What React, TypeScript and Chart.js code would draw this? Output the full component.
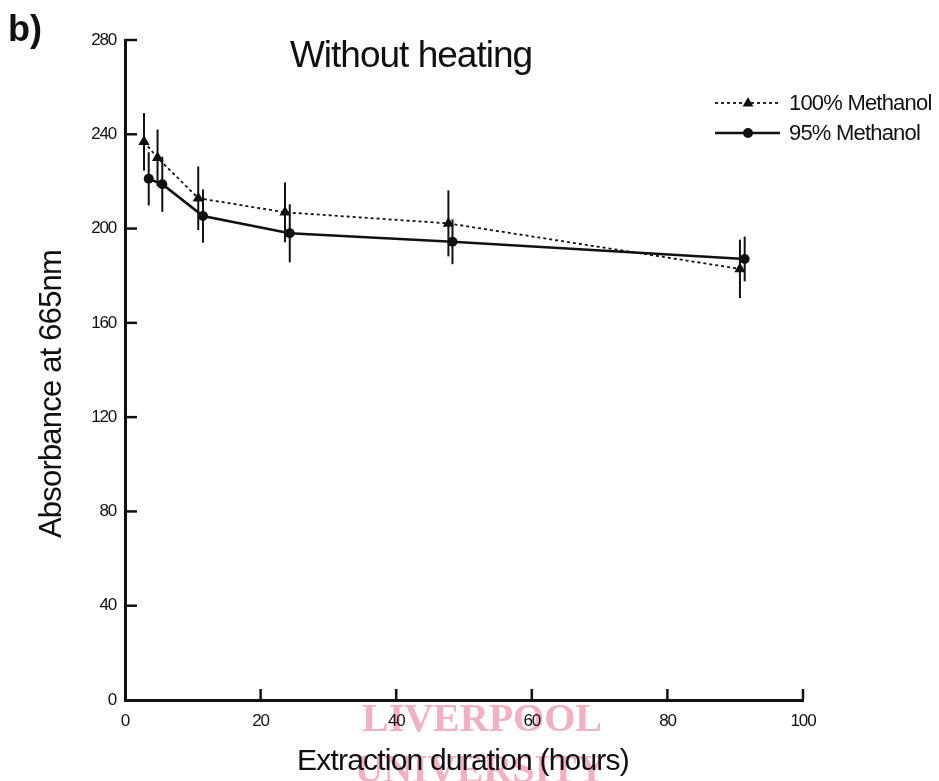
import React, { useEffect, useRef } from "react";
import { Chart, registerables } from "chart.js";

Chart.register(...registerables);

// ---- Data ----
const seriesLabels = ["100% Methanol", "95% Methanol"];

const methanol100X = [2.8, 4.8, 10.8, 23.6, 47.7, 90.7];
const methanol100Y = [236.8, 230.0, 212.9, 206.9, 202.2, 182.9];
const methanol100Err = [12.2, 12.0, 13.5, 12.7, 14.0, 12.4];

const methanol95X = [3.5, 5.5, 11.5, 24.3, 48.3, 91.4];
const methanol95Y = [221.1, 218.8, 205.3, 198.0, 194.4, 187.1];
const methanol95Err = [11.3, 11.7, 11.3, 12.3, 9.5, 9.5];

const xTicks = [0, 20, 40, 60, 80, 100];
const yTicks = [0, 40, 80, 120, 160, 200, 240, 280];

const chartTitle = "Without heating";
const panelLabel = "b)";
const xAxisTitle = "Extraction duration (hours)";
const yAxisTitle = "Absorbance at 665nm";
const watermarkLines = ["LIVERPOOL", "UNIVERSITY"];

const FONT = '"Liberation Sans", Arial, sans-serif';

const errorBars = [methanol100Err, methanol95Err];

const errorBarPlugin = {
  id: "errorBars",
  afterDatasetsDraw(chart: any) {
    const ctx = chart.ctx;
    const xs = chart.scales.x;
    const ys = chart.scales.y;
    ctx.save();
    ctx.strokeStyle = "#111";
    ctx.lineWidth = 2;
    chart.data.datasets.forEach((ds: any, i: number) => {
      ds.data.forEach((p: any, j: number) => {
        const e = errorBars[i][j];
        const px = xs.getPixelForValue(p.x);
        const y1 = ys.getPixelForValue(p.y - e);
        const y2 = ys.getPixelForValue(p.y + e);
        ctx.beginPath();
        ctx.moveTo(px, y1);
        ctx.lineTo(px, y2);
        ctx.stroke();
      });
    });
    ctx.restore();
  },
};

const decorPlugin = {
  id: "decor",
  beforeDraw(chart: any) {
    const ctx = chart.ctx;
    ctx.save();
    ctx.fillStyle = "#ffffff";
    ctx.fillRect(0, 0, chart.width, chart.height);
    // watermark stamp
    ctx.fillStyle = "rgba(228, 100, 130, 0.5)";
    ctx.font = 'bold 40px "Liberation Serif", "Times New Roman", serif';
    ctx.textAlign = "center";
    ctx.textBaseline = "middle";
    ctx.fillText(watermarkLines[0], 482, 721);
    ctx.fillText(watermarkLines[1], 480, 772);
    ctx.restore();
    // condensed look for tick labels
    ctx.letterSpacing = "-1.2px";
  },
  afterDraw(chart: any) {
    const ctx = chart.ctx;
    const xs = chart.scales.x;
    const ys = chart.scales.y;
    const area = chart.chartArea;
    ctx.save();
    // inward tick marks
    ctx.strokeStyle = "#111";
    ctx.lineWidth = 2.5;
    ys.ticks.forEach((t: any) => {
      if (t.value === 0) return;
      const py = ys.getPixelForValue(t.value);
      ctx.beginPath();
      ctx.moveTo(area.left, py);
      ctx.lineTo(area.left + 12, py);
      ctx.stroke();
    });
    xs.ticks.forEach((t: any) => {
      if (t.value === 0) return;
      const px = xs.getPixelForValue(t.value);
      ctx.beginPath();
      ctx.moveTo(px, area.bottom);
      ctx.lineTo(px, area.bottom - 11);
      ctx.stroke();
    });

    ctx.fillStyle = "#111";
    ctx.textAlign = "center";
    ctx.textBaseline = "middle";
    ctx.letterSpacing = "-1px";
    // title
    ctx.font = `37px ${FONT}`;
    ctx.fillText(chartTitle, 411, 57);
    // panel label
    ctx.letterSpacing = "0px";
    ctx.font = `bold 36px ${FONT}`;
    ctx.fillText(panelLabel, 25, 31);
    // x axis title
    ctx.letterSpacing = "-0.8px";
    ctx.font = `30px ${FONT}`;
    ctx.fillText(xAxisTitle, 463, 762);
    // y axis title
    ctx.save();
    ctx.translate(52, 394);
    ctx.rotate(-Math.PI / 2);
    ctx.font = `31px ${FONT}`;
    ctx.fillText(yAxisTitle, 0, 0);
    ctx.restore();

    // legend
    ctx.letterSpacing = "-0.8px";
    ctx.font = `22px ${FONT}`;
    ctx.textAlign = "left";
    const rows = [103, 133];
    chart.data.datasets.forEach((ds: any, i: number) => {
      const y = rows[i];
      ctx.save();
      ctx.strokeStyle = ds.borderColor;
      ctx.lineWidth = ds.borderWidth;
      ctx.setLineDash(ds.borderDash || []);
      ctx.beginPath();
      ctx.moveTo(715, y);
      ctx.lineTo(780, y);
      ctx.stroke();
      ctx.restore();
      ctx.fillStyle = "#111";
      if (ds.pointStyle === "triangle") {
        const r = 6;
        ctx.beginPath();
        ctx.moveTo(748, y - r);
        ctx.lineTo(748 + r * 0.9, y + r * 0.6);
        ctx.lineTo(748 - r * 0.9, y + r * 0.6);
        ctx.closePath();
        ctx.fill();
      } else {
        ctx.beginPath();
        ctx.arc(748, y, 5, 0, Math.PI * 2);
        ctx.fill();
      }
      ctx.fillText(ds.label, 789, y + 1);
    });
    ctx.restore();
  },
};

export default function App() {
  const ref = useRef<HTMLCanvasElement | null>(null);

  useEffect(() => {
    if (!ref.current) return;
    const chart = new Chart(ref.current, {
      type: "scatter",
      data: {
        datasets: [
          {
            label: seriesLabels[0],
            data: methanol100X.map((x, i) => ({ x, y: methanol100Y[i] })),
            showLine: true,
            borderColor: "#111",
            backgroundColor: "#111",
            borderWidth: 1.8,
            borderDash: [3, 3],
            pointStyle: "triangle",
            pointRadius: 6.5,
            pointBorderWidth: 0,
          },
          {
            label: seriesLabels[1],
            data: methanol95X.map((x, i) => ({ x, y: methanol95Y[i] })),
            showLine: true,
            borderColor: "#111",
            backgroundColor: "#111",
            borderWidth: 2.6,
            pointStyle: "circle",
            pointRadius: 5,
            pointBorderWidth: 0,
          },
        ],
      },
      options: {
        responsive: false,
        animation: false,
        devicePixelRatio: 1,
        layout: { padding: { top: 40, right: 136, left: 0, bottom: 0 } },
        plugins: {
          legend: { display: false },
          tooltip: { enabled: false },
          title: { display: false },
        },
        scales: {
          x: {
            type: "linear",
            min: 0,
            max: 100,
            afterBuildTicks: (s: any) => {
              s.ticks = xTicks.map((v) => ({ value: v }));
            },
            afterFit: (s: any) => {
              s.height = 81;
            },
            grid: { display: false },
            border: { display: true, color: "#111", width: 3 },
            ticks: {
              color: "#111",
              font: { family: FONT, size: 17 },
              padding: 3,
              maxRotation: 0,
            },
          },
          y: {
            type: "linear",
            min: 0,
            max: 280,
            afterBuildTicks: (s: any) => {
              s.ticks = yTicks.map((v) => ({ value: v }));
            },
            afterFit: (s: any) => {
              s.width = 125;
            },
            grid: { display: false },
            border: { display: true, color: "#111", width: 3 },
            ticks: {
              color: "#111",
              font: { family: FONT, size: 17 },
              padding: 1,
            },
          },
        },
      },
      plugins: [decorPlugin, errorBarPlugin],
    });
    return () => chart.destroy();
  }, []);

  return (
    <div style={{ position: "absolute", left: 0, top: 0, width: 939, height: 781, background: "#fff" }}>
      <canvas ref={ref} width={939} height={781} />
    </div>
  );
}
